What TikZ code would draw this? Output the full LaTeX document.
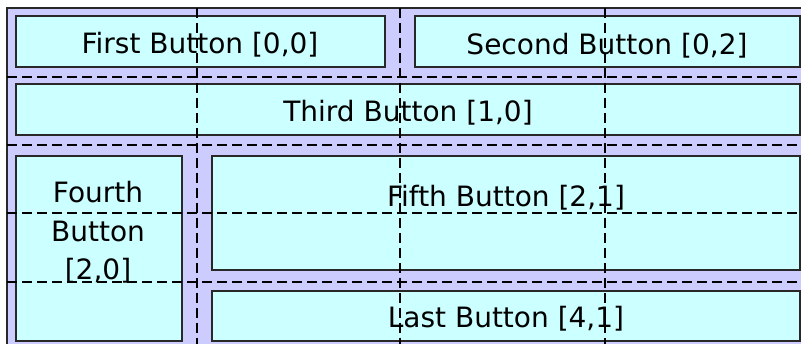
\documentclass[tikz,border=0pt]{standalone}
\usepackage{fontspec}
\usepackage{tikz}
\setmainfont{DejaVu Sans}
\definecolor{panel}{RGB}{204, 204, 255}
\definecolor{button}{RGB}{204, 255, 255}
\definecolor{edge}{RGB}{40, 40, 40}

\begin{document}
\begin{tikzpicture}[x=1pt,y=-1pt,
  btn/.style={draw=edge, line width=1.5pt, fill=button},
  cellline/.style={dash pattern=on 10pt off 5pt, line width=1.5pt},
  lbl/.style={font=\fontsize{28}{38.5}\selectfont, anchor=base, inner sep=0pt, align=center}]
\useasboundingbox (0,0) rectangle (801,344);
\clip (0,0) rectangle (801,344);
\fill[white] (0,0) rectangle (801,344);
% Outer panel
\draw[line width=1.5pt, draw=edge, fill=panel] (7,8) rectangle (812,360);
% Buttons
\draw[btn] (16,16) rectangle (385,67);
\draw[btn] (415,16) rectangle (800,67);
\draw[btn] (16,84) rectangle (800,135);
\draw[btn] (16,156) rectangle (182,341);
\draw[btn] (212,156) rectangle (800,270);
\draw[btn] (212,291) rectangle (800,341);
% Labels (base of a multi-line label is its last line)
\node[lbl] (first) at (200,54) {First Button [0,0]};
\node[lbl] (second) at (607,55) {Second Button [0,2]};
\node[lbl] (third) at (408,122) {Third Button [1,0]};
\node[lbl] (fourth) at (98,280) {Fourth\\Button\\{[2,0]}};
\node[lbl] (fifth) at (506,207) {Fifth Button [2,1]};
\node[lbl] (last) at (506,328) {Last Button [4,1]};
% Grid cell bounds
\foreach \y in {77,145,213,282} {
    \draw[cellline] (7,\y) -- (801,\y);
}
\foreach \x in {197,400,605} {
    \draw[cellline] (\x,8) -- (\x,344);
}
\end{tikzpicture}
\end{document}
